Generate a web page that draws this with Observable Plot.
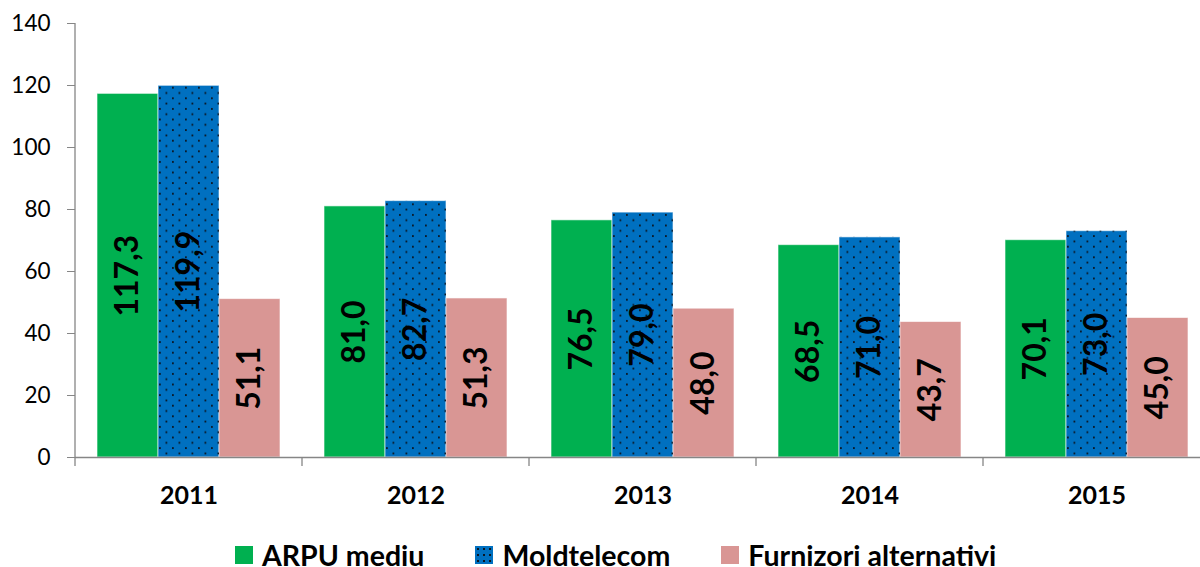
<!DOCTYPE html>
<html>
<head>
<meta charset="utf-8">
<script src="https://cdn.jsdelivr.net/npm/d3@7"></script>
<script src="https://cdn.jsdelivr.net/npm/@observablehq/plot@0.6"></script>
<style>
  html, body { margin: 0; padding: 0; background: white; width: 1200px; height: 567px; overflow: hidden; }
  #wrap { position: relative; width: 1200px; height: 567px; overflow: hidden; }
  #chart svg { max-width: none !important; }
  #legend { position: absolute; top: 545px; left: 235px; display: flex; align-items: center; font-family: Lato, sans-serif; font-weight: bold; font-size: 28.5px; line-height: 20px; color: black; white-space: nowrap; }
  .item { display: inline-flex; align-items: center; margin-right: 51px; }
  .sw { width: 18px; height: 18px; margin-right: 9px; display: inline-block; }
</style>
</head>
<body>
<div id="wrap"><div id="chart"></div><div id="legend"></div></div>
<script>
const years = ["2011", "2012", "2013", "2014", "2015"];
const seriesNames = ["ARPU mediu", "Moldtelecom", "Furnizori alternativi"];
const arpuMediu = [117.3, 81.0, 76.5, 68.5, 70.1];
const moldtelecom = [119.9, 82.7, 79.0, 71.0, 73.0];
const furnizoriAlternativi = [51.1, 51.3, 48.0, 43.7, 45.0];
const seriesColors = ["#00B050", "#0070C0", "#D99694"];
const yTicks = [0, 20, 40, 60, 80, 100, 120, 140];

const seriesValues = [arpuMediu, moldtelecom, furnizoriAlternativi];
const data = years.flatMap((year, i) =>
  seriesNames.map((s, j) => ({year, series: s, value: seriesValues[j][i]}))
);
const fmt = v => d3.format(".1f")(v).replace(".", ",");

const chart = Plot.plot({
  width: 1210,
  height: 535,
  marginLeft: 74,
  marginRight: 0,
  marginTop: 23,
  marginBottom: 78,
  style: {fontFamily: "Lato, sans-serif", background: "white", color: "black", maxWidth: "none"},
  fx: {domain: years, padding: 0},
  x: {domain: seriesNames, paddingInner: 0, paddingOuter: 0.352, axis: null},
  y: {domain: [0, 140]},
  color: {domain: seriesNames, range: seriesColors},
  marks: [
    Plot.barY(data, {fx: "year", x: "series", y: "value", fill: "series", stroke: "white", strokeWidth: 1, strokeOpacity: 0.6}),
    Plot.barY(data.filter(d => d.series === "Moldtelecom"), {fx: "year", x: "series", y: "value", fill: "url(#dots)"}),
    Plot.ruleY([0], {stroke: "#868686", strokeWidth: 1.3}),
    Plot.text(data, {fx: "year", x: "series", y: d => d.value / 2, text: d => fmt(d.value), rotate: -90, fontSize: 32, fontWeight: "bold", fill: "black"}),
    Plot.axisY(yTicks, {tickSize: 8, tickPadding: 17, fontSize: 22.5, stroke: "#868686", label: null, tickFormat: d => String(d)}),
    Plot.axisFx({anchor: "bottom", tickSize: 0, tickPadding: 29, fontSize: 25, fontWeight: "bold", label: null})
  ]
});
chart.style.maxWidth = "none";
document.getElementById("chart").appendChild(chart);

// pattern for the Moldtelecom bars
const svg = d3.select(chart);
const defs = svg.insert("defs", ":first-child");
const pat = defs.append("pattern").attr("id", "dots").attr("patternUnits", "userSpaceOnUse")
  .attr("width", 13).attr("height", 10.6);
pat.append("rect").attr("x", 2).attr("y", 2).attr("width", 1.8).attr("height", 1.8).attr("fill", "#0b1622");
pat.append("rect").attr("x", 8.5).attr("y", 7.3).attr("width", 1.8).attr("height", 1.8).attr("fill", "#0b1622");

// axis line and group separator ticks, from the plot's own scales
const fx = chart.scale("fx");
const y = chart.scale("y");
const y0 = y.apply(0), yTop = y.apply(140);
const edges = years.map(yr => fx.apply(yr));
edges.push(edges[edges.length - 1] + fx.bandwidth);
const g = svg.append("g").attr("stroke", "#868686").attr("stroke-width", 1.3);
g.append("line").attr("x1", edges[0]).attr("x2", edges[0]).attr("y1", yTop).attr("y2", y0);
edges.forEach(x => g.append("line").attr("x1", x).attr("x2", x).attr("y1", y0).attr("y2", y0 + 9));

// legend
const legend = d3.select("#legend");
seriesNames.forEach((name, i) => {
  const it = legend.append("div").attr("class", "item");
  const sw = it.append("span").attr("class", "sw").style("background", seriesColors[i]);
  if (name === "Moldtelecom") {
    sw.style("background-image", "radial-gradient(#0b1622 0.9px, transparent 1.1px)").style("background-size", "6px 6px");
  }
  it.append("span").text(name);
});
</script>
</body>
</html>
